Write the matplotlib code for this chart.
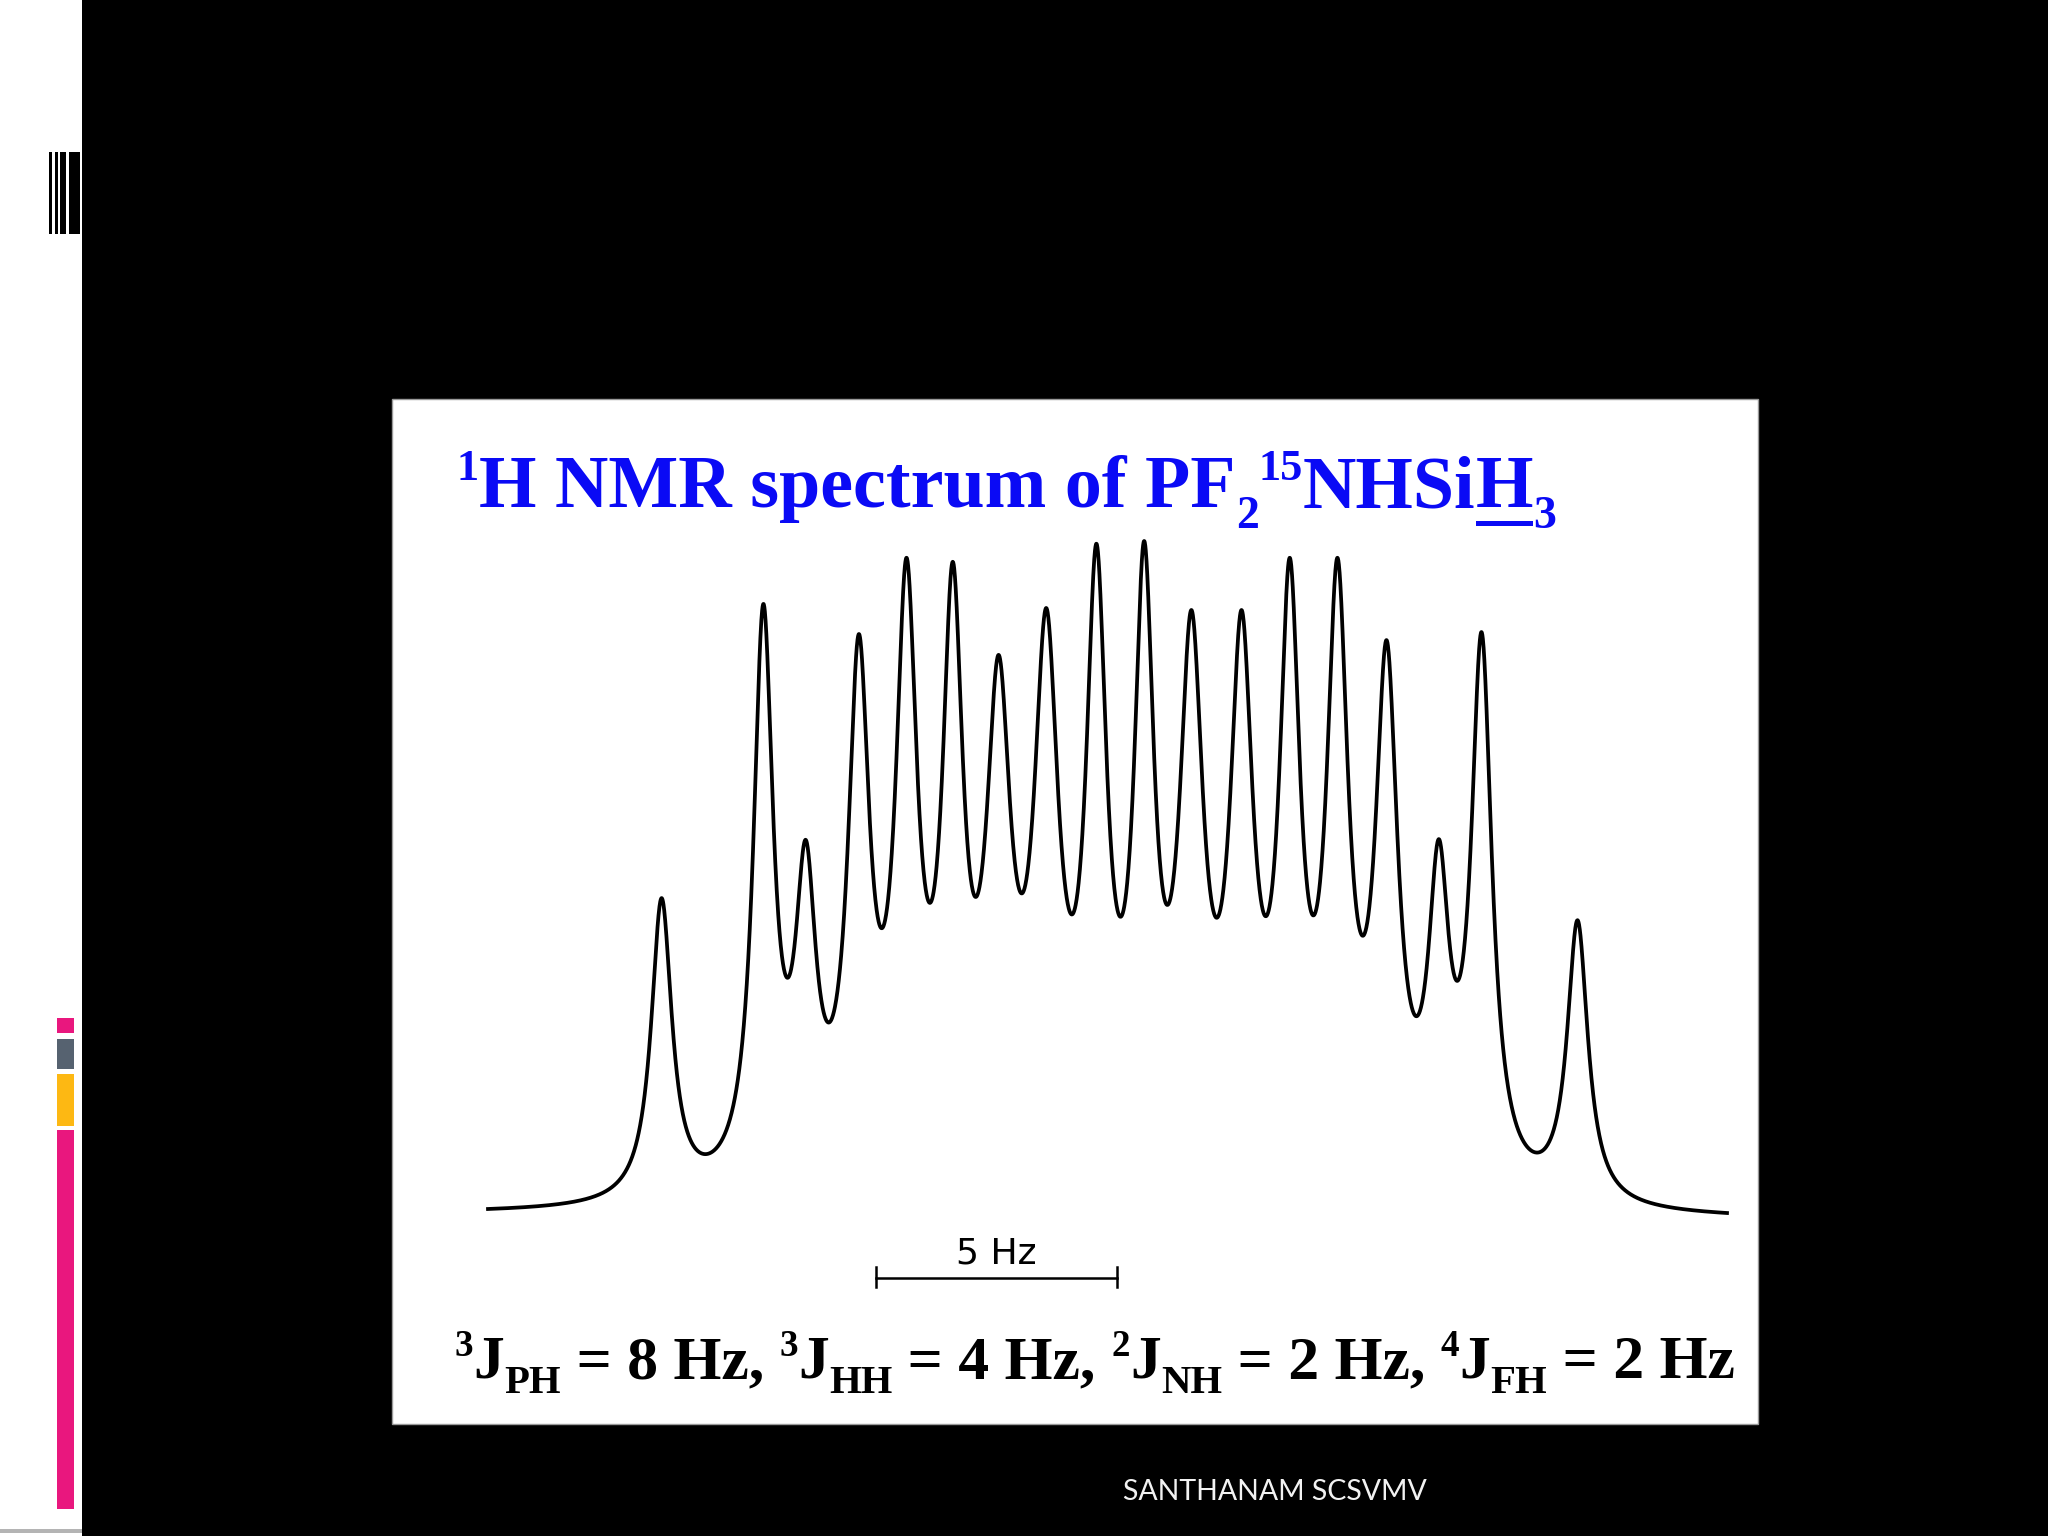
import numpy as np
import matplotlib
matplotlib.use('Agg')
import matplotlib.pyplot as plt
from matplotlib.patches import Rectangle

W, H = 2048, 1536

# peaks: position in Hz from the centre, apex height (tallest = 100)
peak_hz = [-9.50, -7.39, -6.51, -5.41, -4.42, -3.46, -2.51, -1.52, -0.48,
           0.51, 1.49, 2.53, 3.53, 4.52, 5.54, 6.62, 7.51, 9.50]
peak_height = [46.7, 90.6, 55.4, 86.1, 97.5, 96.9, 83.0, 90.0, 99.6,
               100.0, 89.7, 89.7, 97.5, 97.5, 85.2, 55.5, 86.4, 43.4]
# half width at half height of each line, Hz
peak_width = [0.26, 0.25, 0.26, 0.27, 0.27, 0.26, 0.31, 0.31, 0.26,
              0.25, 0.30, 0.29, 0.26, 0.27, 0.28, 0.26, 0.26, 0.26]
trace_range_hz = [-13.1, 12.6]
trace_end_height = [0.3, -0.3]
scale_bar_hz = [-5.05, -0.05]
scale_bar_label = '5 Hz'

title_parts = [('1', 'sup'), ('H NMR spectrum of PF', 'n'), ('2', 'sub'), ('15', 'sup'),
               ('NHSi', 'n'), ('H', 'u'), ('3', 'sub')]
coupling_parts = [('3', 'sup'), ('J', 'n'), ('PH', 'sub'), (' = 8 Hz, ', 'n'),
                  ('3', 'sup'), ('J', 'n'), ('HH', 'sub'), (' = 4 Hz, ', 'n'),
                  ('2', 'sup'), ('J', 'n'), ('NH', 'sub'), (' = 2 Hz, ', 'n'),
                  ('4', 'sup'), ('J', 'n'), ('FH', 'sub'), (' = 2 Hz', 'n')]
footer = 'SANTHANAM SCSVMV'

fig = plt.figure(figsize=(W / 100, H / 100), dpi=100)
fig.patch.set_facecolor('black')
renderer = fig.canvas.get_renderer()


def fx(x):
    return x / W


def fy(y):
    return 1 - y / H


def rect(x0, y0, x1, y1, color, z=-5, ec='none', lw=0):
    fig.patches.append(Rectangle((fx(x0), fy(y1)), (x1 - x0) / W, (y1 - y0) / H,
                                 transform=fig.transFigure, facecolor=color,
                                 edgecolor=ec, linewidth=lw, zorder=z))


# slide decoration on the left
rect(0, 0, 82, H, 'white')
rect(0, 1529, 82, 1533, '#b4b4b4', z=-4)
for a, b in [(49.3, 51.7), (55.3, 58), (60, 66), (69.3, 80)]:
    rect(a, 152, b, 234, 'black', z=-4)
rect(57, 1018, 74, 1033, '#e9177e', z=-4)
rect(57, 1039, 74, 1069, '#566270', z=-4)
rect(57, 1074, 74, 1126, '#fdb813', z=-4)
rect(57, 1130, 74, 1509, '#e9177e', z=-4)

# white picture panel
rect(392, 399, 1758, 1424, 'white', ec='#9a9a9a', lw=1)


def advance(txt, size, **kw):
    a = fig.text(0, 0, 'x' + txt + 'x', fontsize=size, **kw)
    b = fig.text(0, 0, 'xx', fontsize=size, **kw)
    w = a.get_window_extent(renderer).width - b.get_window_extent(renderer).width
    a.remove()
    b.remove()
    return w


def rich(parts, x0, base, size, color, sub=(0.62, 0.28), draw=True):
    font = dict(family='Liberation Serif', weight='bold')
    size_px = size * 100 / 72
    x = x0
    for txt, kind in parts:
        s, dy = size, 0
        if kind == 'sup':
            s, dy = size * 0.6, -0.36 * size_px
        if kind == 'sub':
            s, dy = size * sub[0], sub[1] * size_px
        w = advance(txt, s, **font)
        if draw:
            fig.text(fx(x), fy(base + dy), txt, fontsize=s, color=color,
                     va='baseline', ha='left', **font)
            if kind == 'u':
                rect(x, base + 0.19 * size_px, x + w, base + 0.26 * size_px, color, z=3)
        x += w
    return x - x0


w10 = rich(title_parts, 0, 0, 10, 'blue', draw=False)
rich(title_parts, 457, 507, 10 * (1557 - 457) / w10, '#0a0af5')

w10 = rich(coupling_parts, 0, 0, 10, 'black', sub=(0.66, 0.25), draw=False)
rich(coupling_parts, 455, 1378, 10 * (1735 - 455) / w10, 'black', sub=(0.66, 0.25))

# spectrum: Lorentzian lines on a sloping baseline; amplitudes and baseline are
# solved so the apexes and trace ends sit at the heights
pos = np.array(peak_hz)
wid = np.array(peak_width)


def lines(x):
    return 1.0 / (1.0 + ((np.atleast_1d(x)[:, None] - pos[None, :]) / wid[None, :]) ** 2)


def ramp(x):
    t = (np.atleast_1d(x) - trace_range_hz[0]) / (trace_range_hz[1] - trace_range_hz[0])
    return np.column_stack([1 - t, t])


pts = np.concatenate([pos, trace_range_hz])
design = np.hstack([lines(pts), ramp(pts)])
coef = np.linalg.lstsq(design, np.concatenate([peak_height, trace_end_height]), rcond=None)[0]

xs = np.linspace(trace_range_hz[0], trace_range_hz[1], 5000)
ys = np.hstack([lines(xs), ramp(xs)]) @ coef

ax = fig.add_axes([fx(488), fy(1211), (1727 - 488) / W, (1211 - 541) / H])
ax.set_facecolor('none')
ax.plot(xs, ys, color='black', lw=2.7, clip_on=False, solid_joinstyle='round')
ax.set_xlim(trace_range_hz)
ax.set_ylim(0, 100)
ax.axis('off')

# scale bar
ax.plot(scale_bar_hz, [-10, -10], color='black', lw=1.8, clip_on=False)
for xb in scale_bar_hz:
    ax.plot([xb, xb], [-8.3, -11.4], color='black', lw=1.8, clip_on=False)
ax.text(np.mean(scale_bar_hz), -7.8, scale_bar_label, ha='center', va='baseline',
        fontsize=26, family='DejaVu Sans', color='black', clip_on=False)

# footer
ft = fig.text(fx(1123), fy(1500), footer, fontsize=18, family='Lato',
              color='#f2f2f2', va='baseline', ha='left')
fw = ft.get_window_extent(renderer).width
ft.set_fontsize(18 * 304 / fw)

fig.savefig('out.png', dpi=100, facecolor=fig.get_facecolor())
